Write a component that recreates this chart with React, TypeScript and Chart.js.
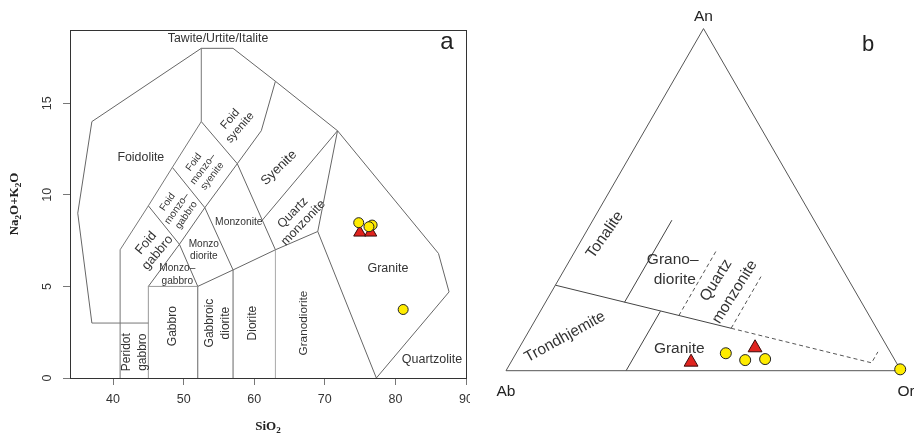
import React, { useEffect, useRef } from 'react';
import { Chart, registerables } from 'chart.js';
Chart.register(...registerables);

// ---------------- Panel a : TAS plutonic diagram ----------------
const SIO2_TICKS = [40, 50, 60, 70, 80, 90];
const ALK_TICKS = [0, 5, 10, 15];

// samples (SiO2 wt%, Na2O+K2O wt%)
const circleSiO2 = [74.8, 76.7, 76.25, 81.1];
const circleAlk = [8.48, 8.35, 8.26, 3.74];
const triangleSiO2 = [74.95, 76.5];
const triangleAlk = [7.94, 7.94];

// field boundaries [SiO2, Na2O+K2O]
const tasOutline = [[37, 3], [35, 9], [37, 14], [52.5, 18], [57, 18], [63, 16.2], [71.8, 13.5], [86.1, 6.8], [87.6, 4.7], [77.3, 0]];
const tasFoidBase = [[37, 3], [45, 3]];
const tasLine41 = [[41, 0], [41, 7], [45, 9.4], [48.4, 11.5], [52.5, 14], [52.5, 18]];
const tasFoidSyenite = [[52.5, 14], [57.6, 11.7], [61, 13.5], [63, 16.2]];
const tasSyeniteMonz = [[57.6, 11.7], [63, 7]];
const tasFoidGab = [[45, 9.4], [49.4, 7.3], [52, 5]];
const tasFoidMonzGab = [[48.4, 11.5], [53, 9.3], [57, 5.9]];
const tasDiagonal = [[57.6, 11.7], [53, 9.3], [49.4, 7.3], [45, 5]];
const tasGabbroTop = [[45, 0], [45, 5], [52, 5]];
const tasLine52 = [[52, 0], [52, 5]];
const tasLine57 = [[57, 0], [57, 5.9]];
const tasLine63 = [[63, 0], [63, 7]];
const tasSubalkaline = [[52, 5], [57, 5.9], [63, 7], [69, 8], [71.8, 13.5]];
const tasQzMonz = [[61.1, 8.6], [71.8, 13.5]];
const tasGranite = [[69, 8], [77.3, 0]];

const tasLabels = [
  { t: ['Tawite/Urtite/Italite'], x: 54.87, y: 18.52, r: 0, s: 12.3, lh: 12 },
  { t: ['Foidolite'], x: 43.93, y: 12.02, r: 0, s: 12.4, lh: 12 },
  { t: ['Foid', 'syenite'], x: 57.3, y: 13.9, r: -49, s: 11.5, lh: 13 },
  { t: ['Foid', 'monzo–', 'syenite'], x: 52.75, y: 11.4, r: -53, s: 10, lh: 11.5 },
  { t: ['Syenite'], x: 63.5, y: 11.47, r: -44, s: 13.2, lh: 13 },
  { t: ['Foid', 'monzo–', 'gabbro'], x: 49.05, y: 9.25, r: -55, s: 10, lh: 11.5 },
  { t: ['Monzonite'], x: 57.82, y: 8.52, r: 0, s: 10.3, lh: 12 },
  { t: ['Quartz', 'monzonite'], x: 66.2, y: 8.74, r: -46, s: 12.5, lh: 14.5 },
  { t: ['Foid', 'gabbro'], x: 45.5, y: 7.1, r: -50, s: 13, lh: 15 },
  { t: ['Monzo', 'diorite'], x: 52.86, y: 6.99, r: 0, s: 10.1, lh: 11.5 },
  { t: ['Monzo–', 'gabbro'], x: 49.1, y: 5.65, r: 0, s: 10.1, lh: 12.5 },
  { t: ['Peridot', 'gabbro'], x: 43.1, y: 1.41, r: -90, s: 12, lh: 16 },
  { t: ['Gabbro'], x: 48.46, y: 2.83, r: -90, s: 12, lh: 16 },
  { t: ['Gabbroic', 'diorite'], x: 54.84, y: 3.0, r: -90, s: 12, lh: 16 },
  { t: ['Diorite'], x: 59.8, y: 3.0, r: -90, s: 12, lh: 16 },
  { t: ['Granodiorite'], x: 67.03, y: 3.0, r: -90, s: 11.8, lh: 16 },
  { t: ['Granite'], x: 78.94, y: 6.0, r: 0, s: 12.5, lh: 12 },
  { t: ['Quartzolite'], x: 85.18, y: 1.02, r: 0, s: 12.5, lh: 12 },
];

// ---------------- Panel b : An-Ab-Or ternary ----------------
// samples (percent)
const circleAn = [5.1, 3.1, 3.4, 0.4];
const circleAb = [41.8, 37.9, 32.7, 0.0];
const circleOr = [53.1, 59.0, 63.9, 99.6];
const triangleAn = [2.5, 6.7];
const triangleAb = [51.9, 33.6];
const triangleOr = [45.6, 59.7];

// boundaries as [An, Or] (Ab = 100 - An - Or)
const ternFrame = [[0, 0], [0, 100], [100, 0], [0, 0]];
const ternTonTro = [[25, 0], [12.4, 50.8]];
const ternTonTroDash = [[12.4, 50.8], [2.3, 91.4], [5.5, 91.4]];
const ternTonGd = [[20, 20], [44, 20]];
const ternTroGr = [[0, 30.4], [17.4, 30.4]];
const ternGdQm = [[16.1, 35.7], [35.3, 35.7]];
const ternQmGr = [[12.4, 50.8], [27.5, 50.8]];

const ternLabels = [
  { t: ['Tonalite'], a: 39.7, o: 5.2, r: -55, s: 15.5, lh: 18 },
  { t: ['Grano–'], a: 32.4, o: 26.0, r: 0, s: 15.5, lh: 18 },
  { t: ['diorite'], a: 26.7, o: 29.4, r: 0, s: 15.5, lh: 18 },
  { t: ['Quartz', 'monzonite'], a: 24.7, o: 43.2, r: -58, s: 15.5, lh: 22 },
  { t: ['Trondhjemite'], a: 9.85, o: 10.0, r: -29, s: 15.5, lh: 18 },
  { t: ['Granite'], a: 6.55, o: 40.6, r: 0, s: 15.5, lh: 18 },
];

const SQ3 = Math.sqrt(3) / 2;
const tern = (an: number, or: number) => ({ x: (or + an / 2) / 100, y: (an / 100) * SQ3 });

const FONT = '"Liberation Sans", Arial, sans-serif';
const SERIF = '"Liberation Serif", "Times New Roman", serif';

function drawText(ctx: CanvasRenderingContext2D, lines: string[], x: number, y: number, rot: number, size: number, lh: number, color = '#333') {
  ctx.save();
  ctx.translate(x, y);
  ctx.rotate((rot * Math.PI) / 180);
  ctx.font = `${size}px ${FONT}`;
  ctx.fillStyle = color;
  ctx.textAlign = 'center';
  ctx.textBaseline = 'middle';
  const n = lines.length;
  lines.forEach((l, i) => ctx.fillText(l, 0, (i - (n - 1) / 2) * lh));
  ctx.restore();
}

function drawRich(ctx: CanvasRenderingContext2D, segs: { t: string; sub?: boolean }[], x: number, y: number, rot: number, size: number) {
  ctx.save();
  ctx.translate(x, y);
  ctx.rotate((rot * Math.PI) / 180);
  const big = `bold ${size}px ${SERIF}`;
  const small = `bold ${size * 0.7}px ${SERIF}`;
  let w = 0;
  for (const s of segs) { ctx.font = s.sub ? small : big; w += ctx.measureText(s.t).width; }
  let cx = -w / 2;
  ctx.fillStyle = '#222';
  ctx.textAlign = 'left';
  ctx.textBaseline = 'middle';
  for (const s of segs) {
    ctx.font = s.sub ? small : big;
    ctx.fillText(s.t, cx, s.sub ? size * 0.3 : 0);
    cx += ctx.measureText(s.t).width;
  }
  ctx.restore();
}

const lineDs = (pts: number[][], color = '#666', dash: number[] = [], conv?: (p: number[]) => { x: number; y: number }) => ({
  type: 'scatter' as const,
  data: pts.map((p) => (conv ? conv(p) : { x: p[0], y: p[1] })),
  showLine: true,
  borderColor: color,
  borderWidth: 1,
  borderDash: dash,
  pointRadius: 0,
  pointHoverRadius: 0,
  fill: false,
  clip: false as const,
  order: 3,
});

const YELLOW = '#FFEC00';
const RED = '#E0231E';

export default function App() {
  const leftRef = useRef<HTMLCanvasElement>(null);
  const rightRef = useRef<HTMLCanvasElement>(null);

  useEffect(() => {
    const tasPlugin = {
      id: 'tasDecor',
      afterDraw(chart: any) {
        const { ctx, chartArea: ca, scales } = chart;
        const xs = scales.x, ys = scales.y;
        ctx.save();
        ctx.strokeStyle = '#333';
        ctx.lineWidth = 1;
        ctx.strokeRect(Math.round(ca.left) + 0.5, Math.round(ca.top) + 0.5, Math.round(ca.right - ca.left), Math.round(ca.bottom - ca.top));
        ctx.restore();
        for (const v of ALK_TICKS) drawText(ctx, [String(v)], 48, ys.getPixelForValue(v), -90, 12.5, 12, '#333');
        for (const v of SIO2_TICKS) drawText(ctx, [String(v)], xs.getPixelForValue(v), ca.bottom + 22, 0, 12.5, 12, '#333');
        for (const L of tasLabels) drawText(ctx, L.t, xs.getPixelForValue(L.x), ys.getPixelForValue(L.y), L.r, L.s, L.lh);
        ctx.save();
        ctx.font = `24px ${FONT}`;
        ctx.fillStyle = '#222';
        ctx.textAlign = 'center';
        ctx.textBaseline = 'middle';
        ctx.fillText('a', 447, 42);
        ctx.restore();
        drawRich(ctx, [{ t: 'SiO' }, { t: '2', sub: true }], (ca.left + ca.right) / 2, 427, 0, 13);
        drawRich(ctx, [{ t: 'Na' }, { t: '2', sub: true }, { t: 'O+K' }, { t: '2', sub: true }, { t: 'O' }], 15, (ca.top + ca.bottom) / 2, -90, 13);
      },
    };

    const left = new Chart(leftRef.current!, {
      type: 'scatter',
      data: {
        datasets: [
          {
            data: circleSiO2.map((x, i) => ({ x, y: circleAlk[i] })),
            pointStyle: 'circle', pointRadius: 5, backgroundColor: YELLOW, borderColor: '#222', borderWidth: 1, order: 1,
          } as any,
          {
            data: triangleSiO2.map((x, i) => ({ x, y: triangleAlk[i] })),
            pointStyle: 'triangle', pointRadius: 7, backgroundColor: RED, borderColor: '#3a0a0a', borderWidth: 1, order: 2,
          } as any,
          lineDs(tasOutline),
          lineDs(tasFoidBase, '#777'),
          lineDs(tasLine41, '#777'),
          lineDs(tasFoidSyenite),
          lineDs(tasSyeniteMonz),
          lineDs(tasFoidGab),
          lineDs(tasFoidMonzGab),
          lineDs(tasDiagonal),
          lineDs(tasGabbroTop, '#999'),
          lineDs(tasLine52),
          lineDs(tasLine57),
          lineDs(tasLine63, '#aaa'),
          lineDs(tasSubalkaline),
          lineDs(tasQzMonz),
          lineDs(tasGranite),
        ],
      },
      options: {
        animation: false,
        responsive: false,
        maintainAspectRatio: false,
        events: [],
        layout: { autoPadding: false, padding: { top: 30, right: 4, left: 0, bottom: 0 } },
        plugins: { legend: { display: false }, tooltip: { enabled: false } },
        scales: {
          x: {
            type: 'linear', min: 33.9, max: 90,
            afterBuildTicks: (s: any) => { s.ticks = SIO2_TICKS.map((v) => ({ value: v })); },
            afterFit: (s: any) => { s.height = 58; },
            grid: { drawOnChartArea: false, drawTicks: true, tickLength: 7, color: '#777' },
            border: { display: false },
            ticks: { display: false },
          },
          y: {
            type: 'linear', min: 0, max: 19,
            afterBuildTicks: (s: any) => { s.ticks = ALK_TICKS.map((v) => ({ value: v })); },
            afterFit: (s: any) => { s.width = 70; },
            grid: { drawOnChartArea: false, drawTicks: true, tickLength: 7, color: '#777' },
            border: { display: false },
            ticks: { display: false },
          },
        },
      },
      plugins: [tasPlugin],
    } as any);

    const ternPlugin = {
      id: 'ternDecor',
      afterDraw(chart: any) {
        const { ctx, scales } = chart;
        const xs = scales.x, ys = scales.y;
        for (const L of ternLabels) {
          const p = tern(L.a, L.o);
          drawText(ctx, L.t, xs.getPixelForValue(p.x), ys.getPixelForValue(p.y), L.r, L.s, L.lh);
        }
        const an = tern(100, 0), ab = tern(0, 0), or = tern(0, 100);
        drawText(ctx, ['An'], xs.getPixelForValue(an.x), ys.getPixelForValue(an.y) - 12, 0, 15.5, 18, '#222');
        drawText(ctx, ['Ab'], xs.getPixelForValue(ab.x), ys.getPixelForValue(ab.y) + 21, 0, 15.5, 18, '#222');
        drawText(ctx, ['Or'], xs.getPixelForValue(or.x) + 5, ys.getPixelForValue(or.y) + 21, 0, 15.5, 18, '#222');
        ctx.save();
        ctx.font = `22px ${FONT}`;
        ctx.fillStyle = '#222';
        ctx.textAlign = 'center';
        ctx.textBaseline = 'middle';
        ctx.fillText('b', 388, 45);
        ctx.restore();
      },
    };

    const conv = (p: number[]) => tern(p[0], p[1]);
    const right = new Chart(rightRef.current!, {
      type: 'scatter',
      data: {
        datasets: [
          {
            data: circleAn.map((a, i) => tern(a, circleOr[i])),
            pointStyle: 'circle', pointRadius: 5.5, backgroundColor: YELLOW, borderColor: '#222', borderWidth: 1, order: 1, clip: false,
          } as any,
          {
            data: triangleAn.map((a, i) => tern(a, triangleOr[i])),
            pointStyle: 'triangle', pointRadius: 8, backgroundColor: RED, borderColor: '#3a0a0a', borderWidth: 1, order: 2, clip: false,
          } as any,
          lineDs(ternFrame, '#555', [], conv),
          lineDs(ternTonTro, '#444', [], conv),
          lineDs(ternTonTroDash, '#555', [4, 3], conv),
          lineDs(ternTonGd, '#444', [], conv),
          lineDs(ternTroGr, '#444', [], conv),
          lineDs(ternGdQm, '#555', [4, 3], conv),
          lineDs(ternQmGr, '#555', [4, 3], conv),
        ],
      },
      options: {
        animation: false,
        responsive: false,
        maintainAspectRatio: false,
        events: [],
        layout: { autoPadding: false, padding: { top: 28.6, right: 13, left: 26, bottom: 65.3 } },
        plugins: { legend: { display: false }, tooltip: { enabled: false } },
        scales: {
          x: { type: 'linear', min: 0, max: 1, display: false },
          y: { type: 'linear', min: 0, max: SQ3, display: false },
        },
      },
      plugins: [ternPlugin],
    } as any);

    return () => { left.destroy(); right.destroy(); };
  }, []);

  return (
    <div style={{ position: 'fixed', left: 0, top: 0, width: 914, height: 436, background: '#fff', overflow: 'hidden' }}>
      <canvas ref={leftRef} width={470} height={436} style={{ position: 'absolute', left: 0, top: 0, width: 470, height: 436 }} />
      <canvas ref={rightRef} width={434} height={436} style={{ position: 'absolute', left: 480, top: 0, width: 434, height: 436 }} />
    </div>
  );
}
